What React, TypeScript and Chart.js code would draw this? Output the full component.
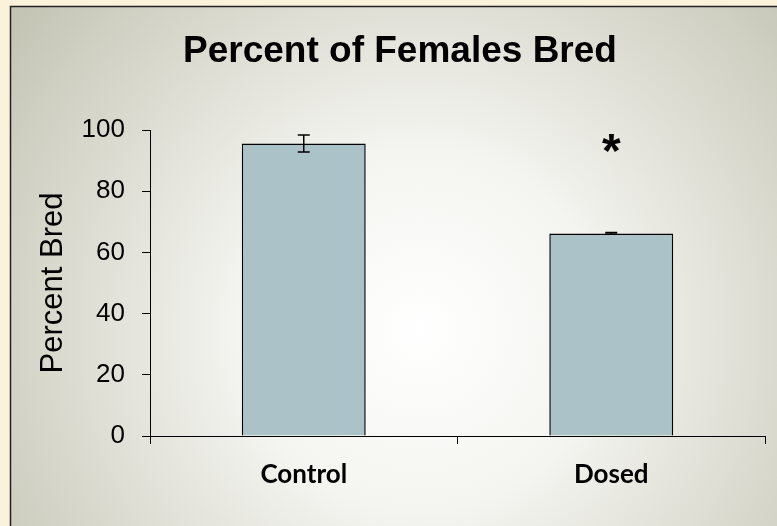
import React, { useEffect, useRef } from "react";
import { Chart, registerables } from "chart.js";

Chart.register(...registerables);

const categories = ["Control", "Dosed"];
const percentBred = [95.6, 66.2];
const errorValues = [2.8, 0.3];
const significance = ["", "*"];
const significanceLevel = 95;
const yTicks = [0, 20, 40, 60, 80, 100];
const chartTitle = "Percent of Females Bred";
const yAxisTitle = "Percent Bred";

const W = 777;
const H = 526;

const backgroundPlugin = {
  id: "slideBackground",
  beforeDraw(chart: any) {
    const ctx = chart.ctx;
    ctx.save();
    ctx.fillStyle = "#fcf1da";
    ctx.fillRect(0, 0, W, H);
    const g = ctx.createRadialGradient(420, 330, 0, 420, 330, 520);
    g.addColorStop(0, "#ffffff");
    g.addColorStop(0.35, "#f4f4f0");
    g.addColorStop(1, "#c3c3b3");
    ctx.fillStyle = g;
    ctx.fillRect(10, 6, W + 20, H + 20);
    ctx.strokeStyle = "#222222";
    ctx.lineWidth = 1.5;
    ctx.strokeRect(10.5, 6.5, W + 20, H + 20);
    ctx.restore();
  },
};

const titlePlugin = {
  id: "slideTitle",
  afterDraw(chart: any) {
    const ctx = chart.ctx;
    ctx.save();
    ctx.fillStyle = "#000000";
    ctx.font = "bold 37px 'Liberation Sans', Arial, sans-serif";
    ctx.textAlign = "center";
    ctx.textBaseline = "alphabetic";
    ctx.fillText(chartTitle, 400, 62);
    ctx.restore();
  },
};

const errorBarPlugin = {
  id: "errorBars",
  afterDatasetsDraw(chart: any) {
    const ctx = chart.ctx;
    const meta = chart.getDatasetMeta(0);
    const y = chart.scales.y;
    ctx.save();
    ctx.strokeStyle = "#000000";
    ctx.lineWidth = 1.5;
    meta.data.forEach((bar: any, i: number) => {
      const v = percentBred[i];
      const e = errorValues[i];
      const x = bar.x;
      const yTop = y.getPixelForValue(v + e);
      const yBot = y.getPixelForValue(v - e);
      ctx.beginPath();
      ctx.moveTo(x, yTop);
      ctx.lineTo(x, yBot);
      ctx.moveTo(x - 6, yTop);
      ctx.lineTo(x + 6, yTop);
      ctx.moveTo(x - 6, yBot);
      ctx.lineTo(x + 6, yBot);
      ctx.stroke();
    });
    ctx.restore();
  },
  afterDraw(chart: any) {
    const ctx = chart.ctx;
    const meta = chart.getDatasetMeta(0);
    const y = chart.scales.y;
    ctx.save();
    ctx.fillStyle = "#000000";
    ctx.font = "bold 48px 'Liberation Sans', Arial, sans-serif";
    ctx.textAlign = "center";
    ctx.textBaseline = "middle";
    meta.data.forEach((bar: any, i: number) => {
      if (significance[i]) {
        ctx.fillText(significance[i], bar.x, y.getPixelForValue(significanceLevel) + 8);
      }
    });
    ctx.restore();
  },
};

export default function App() {
  const ref = useRef<HTMLCanvasElement>(null);
  useEffect(() => {
    document.body.style.margin = "0";
    const chart = new Chart(ref.current!, {
      type: "bar",
      data: {
        labels: categories,
        datasets: [
          {
            data: percentBred,
            backgroundColor: "#abc3c8",
            borderColor: "#000000",
            borderWidth: 1.5,
            barPercentage: 0.403,
            categoryPercentage: 1,
          },
        ],
      },
      plugins: [backgroundPlugin, errorBarPlugin, titlePlugin],
      options: {
        responsive: false,
        animation: false,
        layout: { padding: { left: 0, right: 12, top: 130, bottom: 0 } },
        plugins: {
          legend: { display: false },
          tooltip: { enabled: false },
          title: { display: false },
        },
        scales: {
          x: {
            afterFit: (s: any) => {
              s.height = 90;
            },
            grid: {
              display: true,
              drawOnChartArea: false,
              drawTicks: true,
              tickLength: 8,
              color: "#000000",
              offset: true,
            },
            border: { display: true, color: "#000000", width: 1 },
            ticks: {
              color: "#000000",
              padding: 15,
              font: { family: "Lato, 'Open Sans', sans-serif", size: 26, weight: "bold" },
            },
          },
          y: {
            min: 0,
            max: 100,
            afterFit: (s: any) => {
              s.width = 150;
            },
            afterBuildTicks: (s: any) => {
              s.ticks = yTicks.map((v) => ({ value: v }));
            },
            grid: {
              display: true,
              drawOnChartArea: false,
              drawTicks: true,
              tickLength: 8,
              color: "#000000",
            },
            border: { display: true, color: "#000000", width: 1 },
            ticks: {
              color: "#000000",
              padding: 17,
              font: { family: "'Liberation Sans', Arial, sans-serif", size: 26 },
            },
            title: {
              display: true,
              text: yAxisTitle,
              color: "#000000",
              font: { family: "'Liberation Sans', Arial, sans-serif", size: 31 },
              padding: { top: 35, bottom: 0 },
            },
          },
        },
      },
    });
    return () => chart.destroy();
  }, []);
  return (
    <div style={{ position: "absolute", left: 0, top: 0, width: W, height: H }}>
      <canvas ref={ref} width={W} height={H} />
    </div>
  );
}
